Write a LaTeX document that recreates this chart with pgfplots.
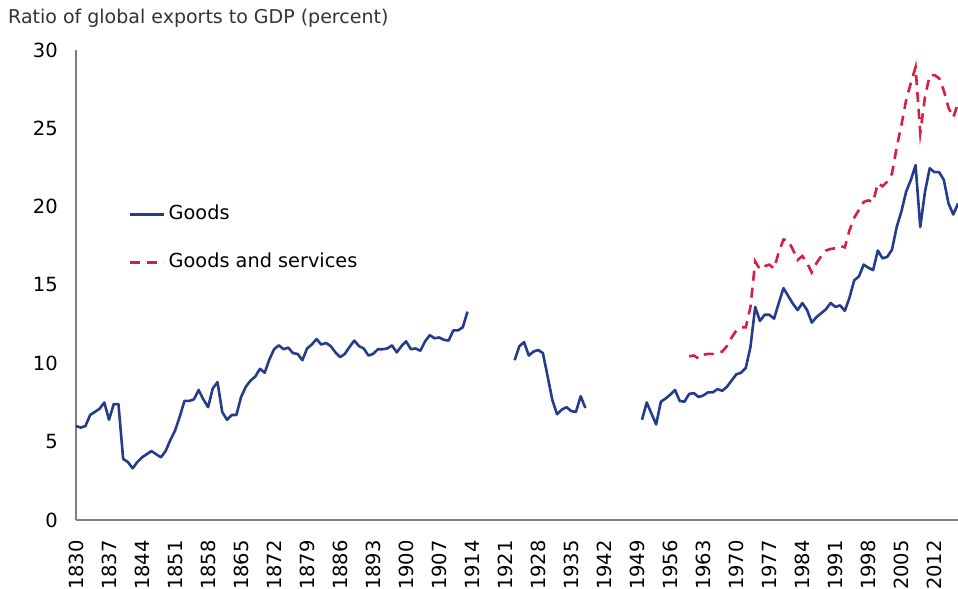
\documentclass[border=0pt]{standalone}
\usepackage{fontspec}
\setmainfont{DejaVu Sans}
\usepackage{pgfplots}
\usepackage{pgfplotstable}
\pgfplotsset{compat=1.18}
\definecolor{navy}{HTML}{253C8C}
\definecolor{crim}{HTML}{D81E40}
\definecolor{axgray}{HTML}{7F7F7F}
\definecolor{titlegray}{HTML}{333333}

\pgfplotstableread{
year val
1830 6.0
1831 5.9
1832 6.0
1833 6.7
1834 6.9
1835 7.1
1836 7.5
1837 6.4
1838 7.4
1839 7.4
1840 3.9
1841 3.7
1842 3.3
1843 3.7
1844 4.0
1845 4.2
1846 4.4
1847 4.2
1848 4.0
1849 4.4
1850 5.1
1851 5.7
1852 6.6
1853 7.6
1854 7.6
1855 7.7
1856 8.3
1857 7.7
1858 7.2
1859 8.4
1860 8.8
1861 6.9
1862 6.4
1863 6.7
1864 6.7
1865 7.85
1866 8.5
1867 8.9
1868 9.15
1869 9.65
1870 9.4
1871 10.25
1872 10.9
1873 11.15
1874 10.9
1875 11.0
1876 10.65
1877 10.6
1878 10.2
1879 10.95
1880 11.2
1881 11.55
1882 11.2
1883 11.3
1884 11.1
1885 10.7
1886 10.4
1887 10.6
1888 11.05
1889 11.45
1890 11.1
1891 10.95
1892 10.5
1893 10.6
1894 10.9
1895 10.9
1896 10.95
1897 11.15
1898 10.7
1899 11.1
1900 11.4
1901 10.9
1902 10.95
1903 10.8
1904 11.4
1905 11.8
1906 11.6
1907 11.65
1908 11.5
1909 11.45
1910 12.1
1911 12.1
1912 12.3
1913 13.3
1914 nan
1923 10.2
1924 11.1
1925 11.35
1926 10.5
1927 10.75
1928 10.85
1929 10.65
1930 9.15
1931 7.65
1932 6.75
1933 7.05
1934 7.2
1935 6.95
1936 6.9
1937 7.9
1938 7.15
1939 nan
1950 6.4
1951 7.5
1952 6.8
1953 6.1
1954 7.55
1955 7.75
1956 8.0
1957 8.3
1958 7.6
1959 7.55
1960 8.05
1961 8.1
1962 7.85
1963 7.95
1964 8.15
1965 8.15
1966 8.35
1967 8.25
1968 8.5
1969 8.9
1970 9.3
1971 9.4
1972 9.7
1973 11.05
1974 13.6
1975 12.7
1976 13.1
1977 13.1
1978 12.85
1979 13.85
1980 14.8
1981 14.3
1982 13.8
1983 13.4
1984 13.85
1985 13.4
1986 12.6
1987 12.95
1988 13.2
1989 13.45
1990 13.85
1991 13.6
1992 13.7
1993 13.35
1994 14.2
1995 15.3
1996 15.55
1997 16.3
1998 16.1
1999 15.95
2000 17.2
2001 16.7
2002 16.8
2003 17.25
2004 18.7
2005 19.7
2006 20.95
2007 21.7
2008 22.65
2009 18.7
2010 20.95
2011 22.45
2012 22.2
2013 22.2
2014 21.7
2015 20.2
2016 19.5
2017 20.2
}\goods

\pgfplotstableread{
year val
1960 10.45
1961 10.5
1962 10.3
1963 10.55
1964 10.6
1965 10.6
1966 10.7
1967 10.75
1968 11.1
1969 11.65
1970 12.1
1971 12.3
1972 12.3
1973 13.6
1974 16.5
1975 16.0
1976 16.2
1977 16.3
1978 16.05
1979 17.1
1980 17.9
1981 17.85
1982 17.25
1983 16.6
1984 16.85
1985 16.4
1986 15.8
1987 16.4
1988 16.85
1989 17.2
1990 17.3
1991 17.35
1992 17.5
1993 17.4
1994 18.5
1995 19.3
1996 19.8
1997 20.3
1998 20.4
1999 20.3
2000 21.5
2001 21.3
2002 21.6
2003 22.1
2004 23.8
2005 25.2
2006 26.8
2007 27.9
2008 28.9
2009 24.7
2010 27.0
2011 28.4
2012 28.4
2013 28.2
2014 27.4
2015 26.3
2016 25.7
2017 26.6
}\services

\begin{document}
\begin{tikzpicture}
\path[use as bounding box] (-76bp,-69bp) rectangle (882bp,520bp);
\node[anchor=base west, inner sep=0pt, text=titlegray, font=\fontsize{19bp}{22bp}\selectfont]
  at (-68bp,496bp) {Ratio of global exports to GDP (percent)};
\begin{axis}[
  at={(0bp,0bp)}, anchor=south west,
  scale only axis, width=882bp, height=470bp,
  xmin=1830, xmax=2017, ymin=0, ymax=30,
  axis lines*=left,
  axis line style={axgray, line width=1.5bp},
  xtick={1830,1837,...,2012},
  ytick={0,5,...,30},
  major tick length=0pt,
  /pgf/number format/assume math mode=true,
  /pgf/number format/1000 sep={},
  tick label style={font=\fontsize{19.5bp}{22bp}\selectfont, text=black},
  xticklabel style={rotate=90, anchor=east, inner sep=0pt},
  yticklabel style={anchor=east, inner sep=0pt},
  xticklabel shift=20bp,
  yticklabel shift=18bp,
  unbounded coords=jump,
  legend style={at={(rel axis cs:0.060,0.668)}, anchor=north west, draw=none, fill=none,
    inner sep=0pt, row sep=31bp, column sep=3bp,
    font=\fontsize{19.3bp}{22bp}\selectfont,
    nodes={inner sep=0pt, text height=13bp, text depth=4bp, anchor=west}},
  legend cell align=left,
  legend image code/.code={\draw[#1] (0bp,0bp) -- (34bp,0bp);},
]
\addplot[navy, line width=2.6bp, line join=round] table[x=year, y=val] {\goods};
\addlegendentry{Goods}
\addplot[crim, line width=2.6bp, dash pattern=on 10bp off 7bp] table[x=year, y=val] {\services};
\addlegendentry{Goods and services}
\end{axis}
\end{tikzpicture}
\end{document}
